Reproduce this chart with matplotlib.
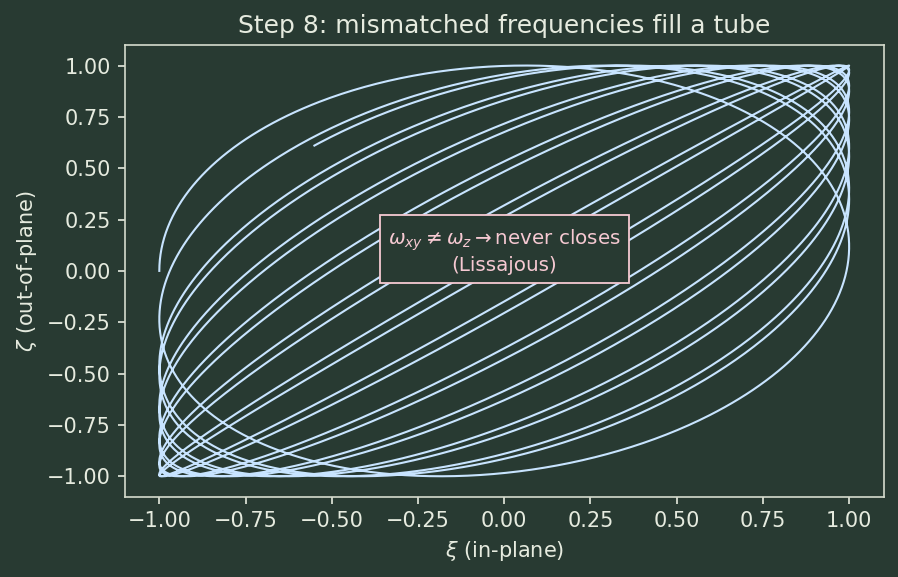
import numpy as np
import matplotlib.pyplot as plt

# Lissajous parameters (in-plane vs out-of-plane frequency)
omega_xy = 1.0
n_turns = 12
t_end = 2*np.pi*n_turns - 0.988
omega_z = omega_xy * (1 - 2.81/t_end)

t = np.linspace(0, t_end, 8000)
xi = -np.cos(omega_xy*t)
zeta = np.sin(omega_z*t)

bg = '#283a32'
fg = '#e6ebdf'
line_c = '#c8e4ff'
note_c = '#f6c9d2'

plt.rcParams['text.color'] = fg
plt.rcParams['axes.labelcolor'] = fg
plt.rcParams['xtick.color'] = fg
plt.rcParams['ytick.color'] = fg

fig, ax = plt.subplots(figsize=(8.98, 5.77), dpi=100)
fig.patch.set_facecolor(bg)
ax.set_facecolor(bg)
for s in ax.spines.values():
    s.set_color('#d6dccd')
    s.set_linewidth(1.2)

ax.plot(xi, zeta, color=line_c, lw=1.5)

ax.text(0.5, 0.543, r"$\omega_{xy} \neq \omega_z \rightarrow$never closes" + "\n(Lissajous)",
        transform=ax.transAxes, ha='center', va='center', fontsize=14.3, color=note_c,
        bbox=dict(boxstyle='square,pad=0.4', facecolor=bg, edgecolor=note_c, lw=1.3))

ax.set_title("Step 8: mismatched frequencies fill a tube", fontsize=18, color=fg, pad=9)
ax.set_xlabel(r"$\xi$ (in-plane)", fontsize=15, labelpad=6)
ax.set_ylabel(r"$\zeta$ (out-of-plane)", fontsize=15, labelpad=6)
ax.tick_params(labelsize=15, length=5, width=1.2, pad=5)

fig.subplots_adjust(left=0.139, right=0.984, top=0.922, bottom=0.139)
fig.savefig("out.png", dpi=100, facecolor=bg)
